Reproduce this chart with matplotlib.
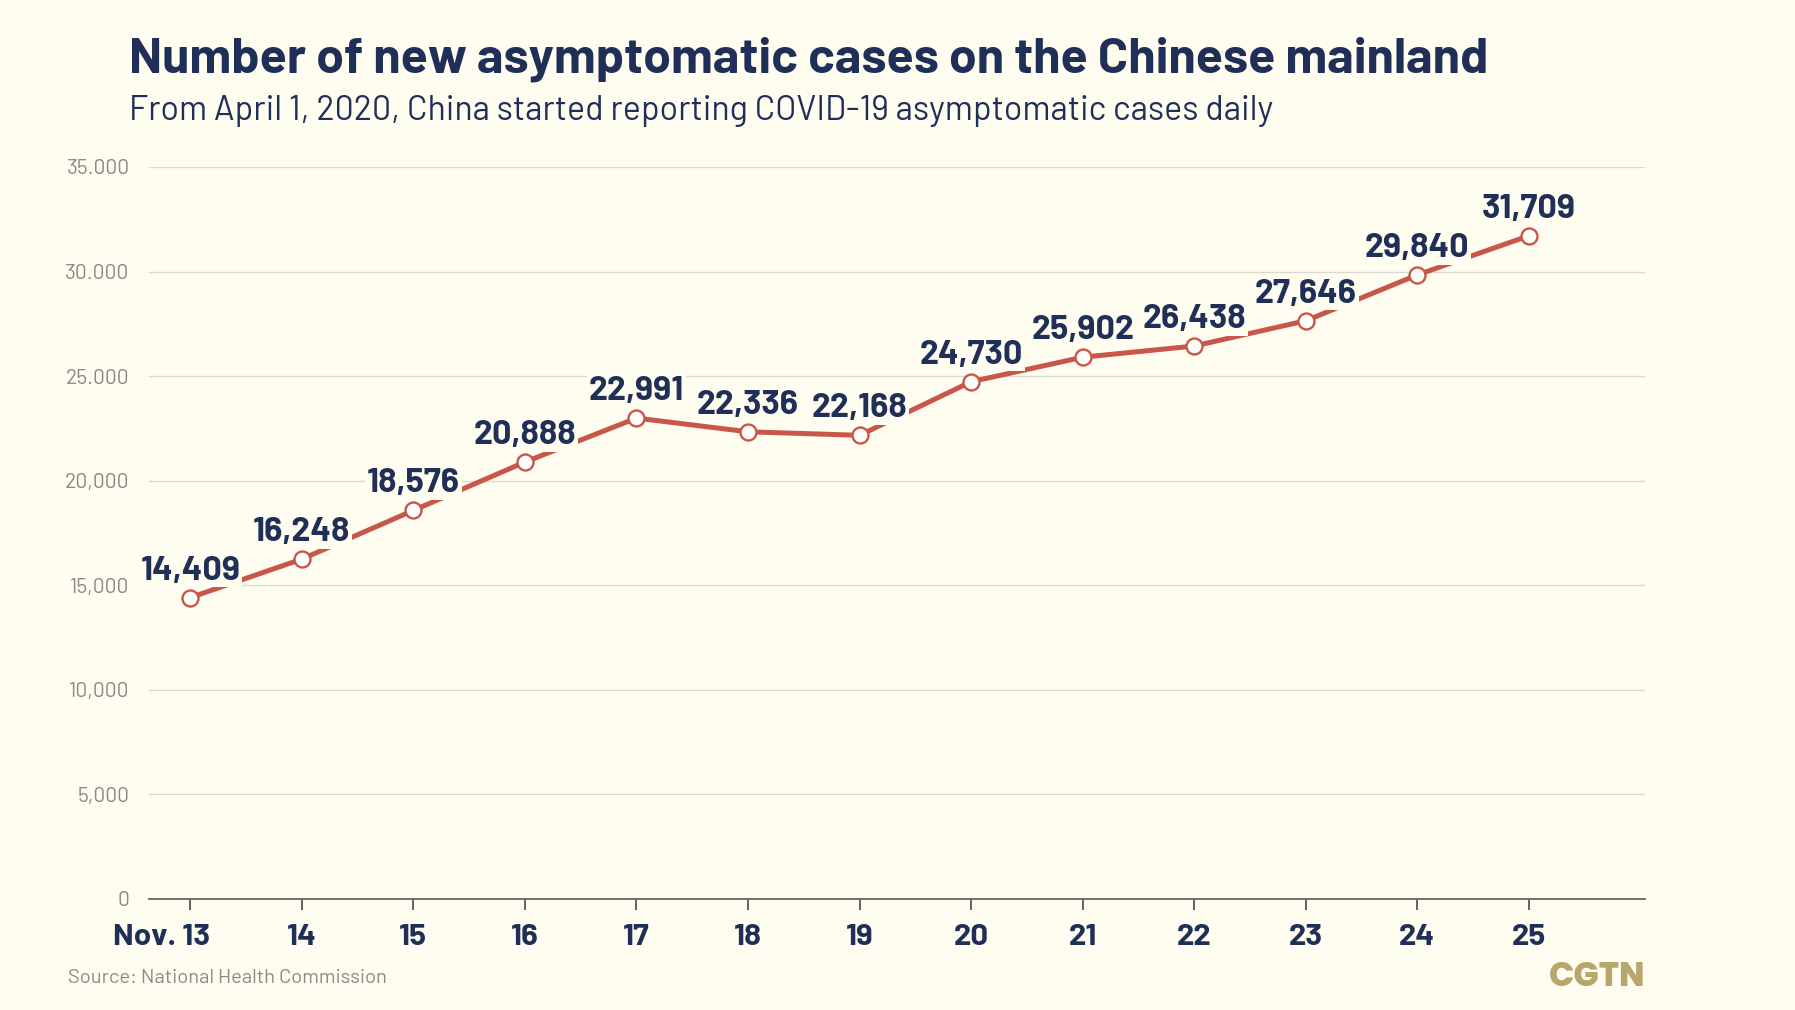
import matplotlib
matplotlib.use("Agg")
import matplotlib.pyplot as plt
import matplotlib.transforms as mtransforms

# data
dates = ['Nov. 13', '14', '15', '16', '17', '18', '19', '20', '21', '22', '23', '24', '25']
cases = [14409, 16248, 18576, 20888, 22991, 22336, 22168, 24730, 25902, 26438, 27646, 29840, 31709]
yticks = [0, 5000, 10000, 15000, 20000, 25000, 30000, 35000]
ytick_labels = ['0', '5,000', '10,000', '15,000', '20,000', '25.000', '30.000', '35.000']

bg = '#fffcf0'
navy = '#1f2f57'
red = '#c8574a'
grey = '#8a8a86'
font = ['Barlow', 'DejaVu Sans']

fig = plt.figure(figsize=(17.95, 10.1), dpi=100, facecolor=bg)
ax = fig.add_axes([0.083, 0.11, 0.8334, 0.7247], facecolor=bg)

x = list(range(len(dates)))
ax.plot(x, cases, color=red, lw=3.6, marker='o', markersize=11.5,
        markerfacecolor='#fffefa', markeredgecolor=red, markeredgewidth=1.7, zorder=3)

# value labels
for xi, v in zip(x, cases):
    ax.annotate(f'{v:,}', (xi, v), xytext=(0, 13), textcoords='offset points',
                ha='center', va='baseline', fontsize=24.5, fontweight='bold',
                color=navy, family=font, zorder=4,
                bbox=dict(boxstyle='square,pad=0.05', fc=bg, ec='none'))

ax.set_xlim(-0.37, 13.04)
ax.set_ylim(0, 35000)
ax.set_xticks(x)
ax.set_xticklabels(dates, fontsize=22.5, fontweight='bold', color=navy, family=font)
ax.set_yticks(yticks)
ax.set_yticklabels(ytick_labels, fontsize=15.2, color=grey, family=font)
ax.tick_params(axis='x', length=8, width=1.3, color='#555555', pad=10)
ax.tick_params(axis='y', length=0, pad=14)

# "Nov. 13": keep the day number under its tick
first = ax.get_xticklabels()[0]
first.set_transform(first.get_transform() + mtransforms.ScaledTranslation(-0.29, 0, fig.dpi_scale_trans))

ax.grid(axis='y', color='#dcdad0', lw=1)
ax.set_axisbelow(True)
for s in ['top', 'right', 'left']:
    ax.spines[s].set_visible(False)
ax.spines['bottom'].set_color('#666666')
ax.spines['bottom'].set_linewidth(1.3)

# titles
fig.text(129 / 1795, 1 - 72 / 1010, 'Number of new asymptomatic cases on the Chinese mainland',
         fontsize=36, fontweight='bold', color=navy, family=font, va='baseline')
fig.text(129 / 1795, 1 - 120 / 1010, 'From April 1, 2020, China started reporting COVID-19 asymptomatic cases daily',
         fontsize=24.4, color=navy, family=font, va='baseline')
fig.text(68 / 1795, 1 - 983 / 1010, 'Source: National Health Commission',
         fontsize=14.5, color=grey, family=font, va='baseline')
fig.text(1645 / 1795, 1 - 986 / 1010, 'CGTN',
         fontsize=24, fontweight='heavy', color='#b7a76c', family=['Poppins', 'DejaVu Sans'],
         va='baseline', ha='right')

fig.savefig('out.png', dpi=100, facecolor=bg)
